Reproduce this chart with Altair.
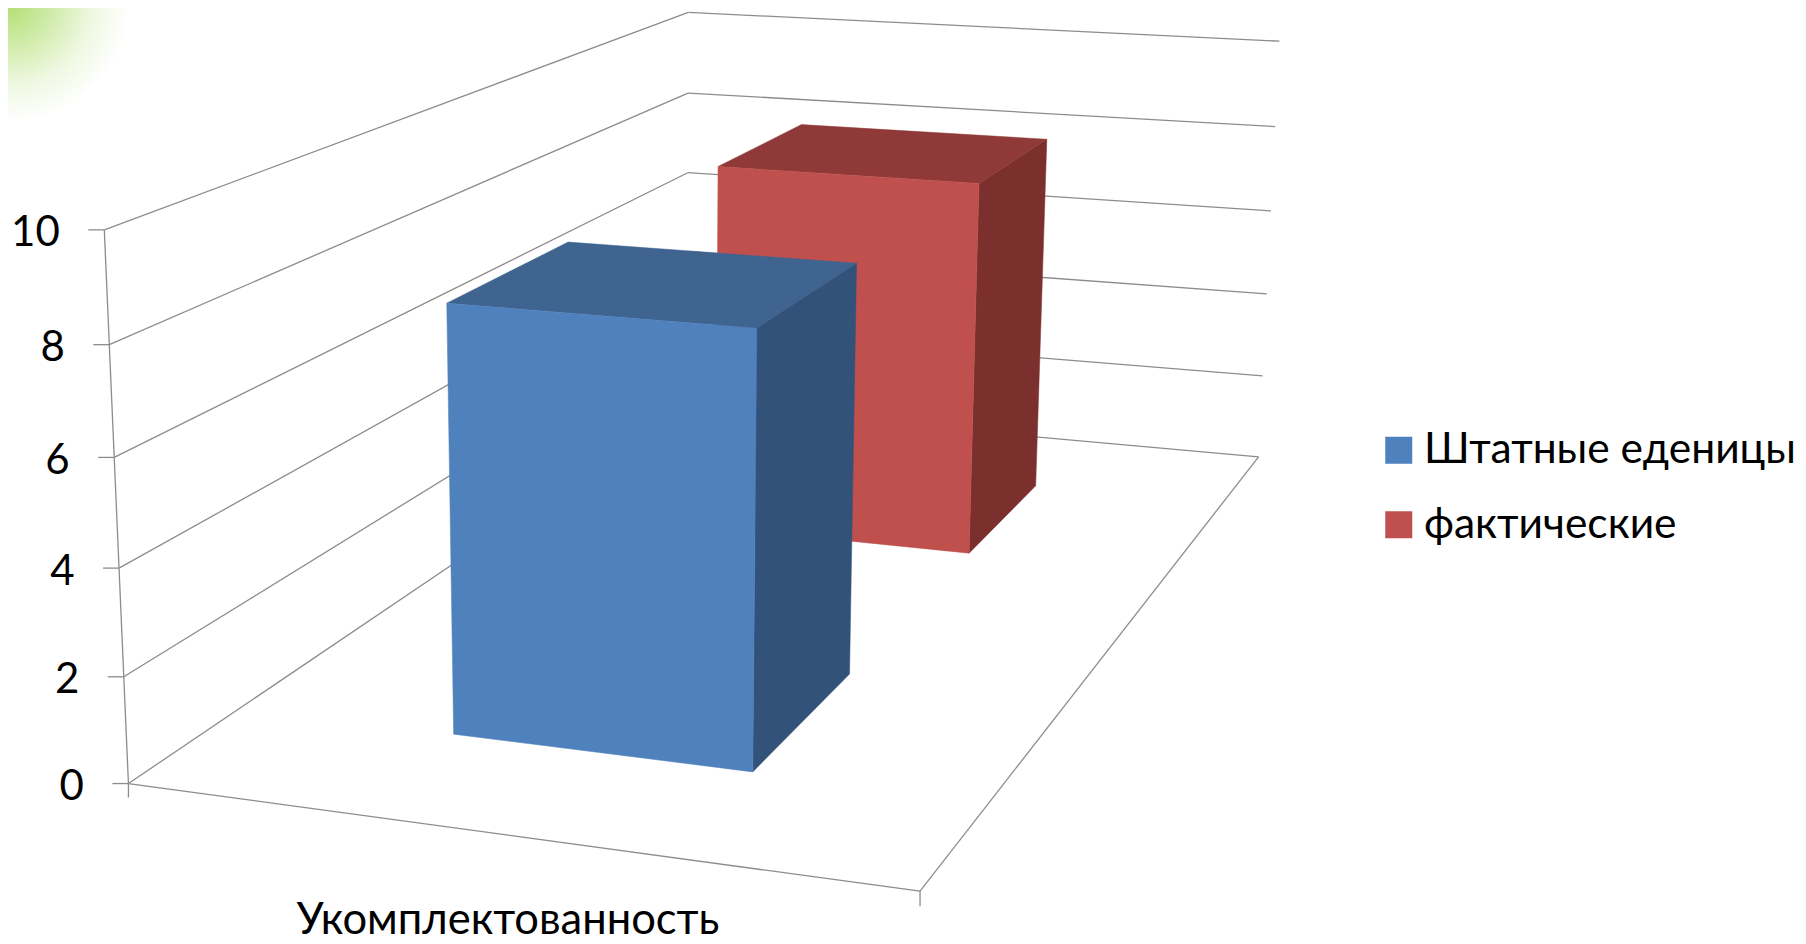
import numpy as np
import pandas as pd
import altair as alt

# ---- chart values
series = ["Штатные еденицы", "фактические"]
values = [8.15, 8.15]
category = "Укомплектованность"
ticks = [0, 2, 4, 6, 8, 10]
colors_front = ["#4F81BD", "#C0504D"]
colors_top = ["#3F6490", "#8F3A38"]
colors_side = ["#325279", "#7B302E"]
gap_x = [0.30, 0.70]
gap_d = [[0.15, 0.35], [0.65, 0.85]]

# ---- camera: world (x, depth, value/10) -> page pixels, fitted on the drawn box
world = [(0,0,0),(0,0,.6),(0,0,1),(1,0,0),(0,1,.6),(0,1,1),(0,1,.8),(1,1,0),(1,1,.6),(1,1,1)]
page = [(129,784),(113,457),(105,230),(920,891),(688,172),(688,13),(688,93),(1258,457),(1272,211),(1279,41)]
A = []
for (X,Y,Z),(u,v) in zip(world,page):
    u/=1000; v/=1000
    A.append([X,Y,Z,1,0,0,0,0,-u*X,-u*Y,-u*Z,-u])
    A.append([0,0,0,0,X,Y,Z,1,-v*X,-v*Y,-v*Z,-v])
P = np.linalg.svd(np.array(A))[2][-1].reshape(3,4)
def proj(x,d,val):
    h = P @ np.array([x,d,val/10,1.0])
    return h[0]/h[2]*1000-8, h[1]/h[2]*1000-8

# ---- lines
rows=[]
def seg(name,a,b,kind="grid"):
    for i,p in enumerate((a,b)):
        rows.append(dict(name=name,seq=i,px=p[0],py=p[1],kind=kind))
for t in ticks:
    seg(f"left{t}",proj(0,0,t),proj(0,1,t))
    seg(f"back{t}",proj(0,1,t),proj(1,1,t))
    p=proj(0,0,t)
    seg(f"tick{t}",(p[0]-16,p[1]),p)
seg("axis",proj(0,0,0),proj(0,0,10))
seg("front",proj(0,0,0),proj(1,0,0))
seg("right",proj(1,0,0),proj(1,1,0))
a=proj(0,0,0); seg("t1",a,(a[0],a[1]+14))
a=proj(1,0,0); seg("t2",a,(a[0],a[1]+15))
lines=pd.DataFrame(rows)

# ---- bar faces
faces=[]
def face(name,group,pts):
    for i,p in enumerate(pts+pts[:1]):
        faces.append(dict(poly=name,seq=i,px=p[0],py=p[1],face=group))
for k in (1,0):
    x0,x1=gap_x; d0,d1=gap_d[k]; v=values[k]
    face(f"s{k}",f"side{k}",[proj(x1,d0,0),proj(x1,d1,0),proj(x1,d1,v),proj(x1,d0,v)])
    face(f"t{k}",f"top{k}",[proj(x0,d0,v),proj(x1,d0,v),proj(x1,d1,v),proj(x0,d1,v)])
    face(f"f{k}",series[k],[proj(x0,d0,0),proj(x1,d0,0),proj(x1,d0,v),proj(x0,d0,v)])
faces=pd.DataFrame(faces)

W,H=1790,936
X=alt.X("px:Q",scale=alt.Scale(domain=[0,W],nice=False,zero=False),axis=None)
Y=alt.Y("py:Q",scale=alt.Scale(domain=[H,0],nice=False,zero=False),axis=None)

glow=alt.Chart(pd.DataFrame({"px":[0],"px2":[170],"py":[0],"py2":[120]})).mark_rect(
    fill=alt.RadialGradient(gradient="radial",x1=0,y1=0.1,x2=0,y2=0.1,r1=0,r2=0.72,
        stops=[alt.GradientStop(offset=0,color="#B0DE6E"),alt.GradientStop(offset=0.3,color="#C9E99E"),alt.GradientStop(offset=0.7,color="#EFF8E2"),alt.GradientStop(offset=1,color="#FFFFFF")])
).encode(x=X,x2="px2:Q",y=Y,y2="py2:Q")

grid=alt.Chart(lines).mark_line(color="#8C8C8C",strokeWidth=1.3).encode(x=X,y=Y,detail="name:N",order="seq:Q")

domain=series+["top0","top1","side0","side1"]
rng=colors_front+colors_top+colors_side
bars=alt.Chart(faces).mark_line(strokeWidth=0.5).encode(
    x=X,y=Y,order="seq:Q",detail="poly:N",
    fill=alt.Fill("face:N",scale=alt.Scale(domain=domain,range=rng),
        legend=alt.Legend(values=series,orient="none",legendX=1369.5,legendY=421,title=None,symbolType="square",
            symbolSize=729,symbolStrokeWidth=0,labelFont="Lato",labelFontSize=42.5,labelColor="#000000",rowPadding=31.5,labelOffset=4,labelLimit=600)),
    stroke=alt.Stroke("face:N",scale=alt.Scale(domain=domain,range=rng),legend=None),
)

tl=[]
for t in ticks:
    p=proj(0,0,t); tl.append(dict(px=p[0]-44.5,py=p[1]+3.5,label=str(t)))
labels=alt.Chart(pd.DataFrame(tl)).mark_text(font="Lato",fontSize=42,align="right",baseline="middle",color="#000000").encode(x=X,y=Y,text="label:N")
cat=alt.Chart(pd.DataFrame([dict(px=500,py=913,label=category)])).mark_text(font="Lato",fontSize=43.5,align="center",baseline="middle",color="#000000").encode(x=X,y=Y,text="label:N")

chart=alt.layer(glow,grid,bars,labels,cat).properties(width=W,height=H,padding=0,autosize=alt.AutoSizeParams(type="none")).configure_view(stroke=None)
chart.save("out.html",embed_options={"renderer":"svg","actions":False})
